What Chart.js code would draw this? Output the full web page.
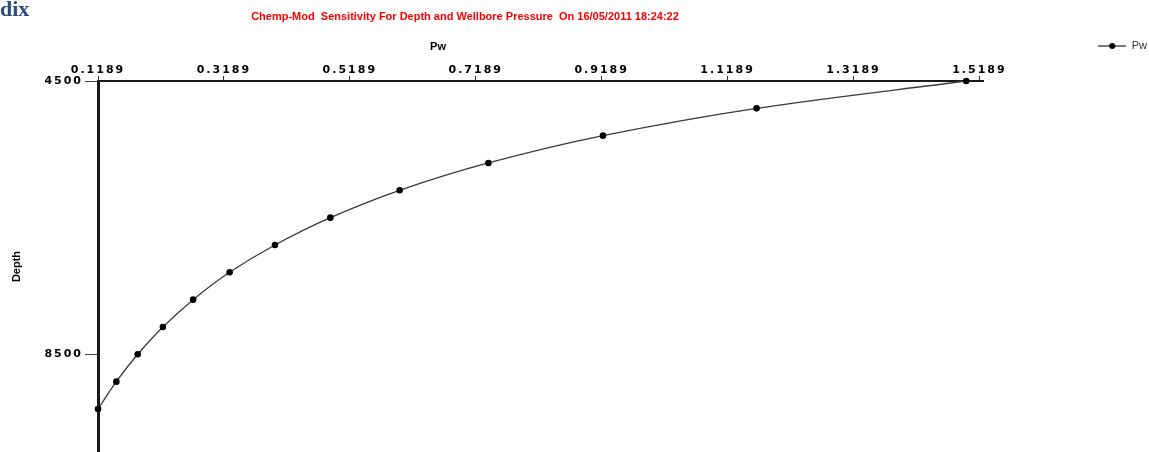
<!DOCTYPE html>
<html>
<head>
<meta charset="utf-8">
<script src="https://cdn.jsdelivr.net/npm/chart.js@4.4.1/dist/chart.umd.min.js"></script>
<style>
  html, body { margin: 0; padding: 0; background: #ffffff; overflow: hidden; }
  #frame { position: relative; width: 1149px; height: 452px; overflow: hidden; background: #ffffff; }
  #plot { position: absolute; left: 0; top: 0; }
  #fragment { position: absolute; left: 0; top: -2px; font: bold 22px "Liberation Serif", "DejaVu Serif", serif; line-height: 22px; color: #2c4a7c; }
</style>
</head>
<body>
<div id="frame">
  <canvas id="plot" width="1157" height="452"></canvas>
  <div id="fragment">dix</div>
</div>
<script>
// Depth (ft) and wellbore pressure readings of the sensitivity run
const depth = [4500, 4900, 5300, 5700, 6100, 6500, 6900, 7300, 7700, 8100, 8500, 8900, 9300];
const pw = [1.498, 1.165, 0.921, 0.739, 0.598, 0.488, 0.400, 0.328, 0.270, 0.222, 0.182, 0.148, 0.1189];

// Axis tick values
const pwTicks = [0.1189, 0.3189, 0.5189, 0.7189, 0.9189, 1.1189, 1.3189, 1.5189];
const depthTicks = [4500, 8500];

// Texts
const headingText = 'Chemp-Mod  Sensitivity For Depth and Wellbore Pressure  On 16/05/2011 18:24:22';
const xAxisTitle = 'Pw';
const yAxisTitle = 'Depth';
const seriesName = 'Pw';

const TICK_FONT = { family: '"DejaVu Sans", Verdana, sans-serif', size: 11, weight: 'bold' };

// Legend sample: short line with a dot, as used by the series
const swatch = document.createElement('canvas');
swatch.width = 28;
swatch.height = 8;
(function () {
  const s = swatch.getContext('2d');
  s.strokeStyle = '#222';
  s.lineWidth = 1.2;
  s.beginPath();
  s.moveTo(0, 4);
  s.lineTo(28, 4);
  s.stroke();
  s.fillStyle = '#000';
  s.beginPath();
  s.arc(14, 4, 3, 0, Math.PI * 2);
  s.fill();
})();

// Widely spaced tick labels
const spacedTicks = {
  id: 'spacedTicks',
  beforeDraw(chart) {
    for (const id of ['x', 'y']) {
      const scale = chart.scales[id];
      if (!scale || scale._spaced) continue;
      const base = scale.drawLabels;
      scale.drawLabels = function (area) {
        this.ctx.save();
        this.ctx.letterSpacing = '2px';
        base.call(this, area);
        this.ctx.restore();
      };
      scale._spaced = true;
    }
  }
};

// Heading and horizontal axis caption
const captions = {
  id: 'captions',
  afterDraw(chart) {
    const ctx = chart.ctx;
    ctx.save();
    ctx.textAlign = 'center';
    ctx.textBaseline = 'middle';
    ctx.fillStyle = '#ff0000';
    ctx.font = 'bold 11px "Liberation Sans", Arial, sans-serif';
    ctx.fillText(headingText, 465, 17);
    ctx.fillStyle = '#000000';
    ctx.font = 'bold 11px "Liberation Sans", Arial, sans-serif';
    ctx.fillText(xAxisTitle, 438, 47);
    ctx.restore();
  }
};

new Chart(document.getElementById('plot'), {
  type: 'line',
  data: {
    datasets: [{
      label: seriesName,
      data: depth.map((d, i) => ({ x: pw[i], y: d })),
      borderColor: '#3a3a3a',
      borderWidth: 1.3,
      tension: 0.35,
      pointRadius: 3.3,
      pointBackgroundColor: '#000000',
      pointBorderWidth: 0,
      pointStyle: 'circle',
      clip: false,
      fill: false
    }]
  },
  options: {
    responsive: false,
    animation: false,
    devicePixelRatio: 1,
    layout: { autoPadding: false, padding: { top: -74.5, left: 0, right: 0, bottom: 0 } },
    plugins: {
      title: { display: false },
      tooltip: { enabled: false },
      legend: {
        position: 'right',
        align: 'start',
        fullSize: true,
        labels: {
          usePointStyle: true,
          pointStyle: swatch,
          pointStyleWidth: 28,
          boxHeight: 8,
          padding: 115,
          color: '#333333',
          font: { family: '"Liberation Sans", Arial, sans-serif', size: 11 }
        }
      }
    },
    scales: {
      x: {
        type: 'linear',
        position: 'top',
        min: 0.1189,
        max: 1.525,
        afterBuildTicks: (s) => { s.ticks = pwTicks.map(v => ({ value: v })); },
        afterFit: (s) => { s.height = 155.5; },
        ticks: {
          font: TICK_FONT,
          color: '#000000',
          padding: -1,
          maxRotation: 0,
          autoSkip: false,
          callback: (v) => Number(v).toFixed(4)
        },
        grid: { display: true, drawOnChartArea: false, drawTicks: true, tickLength: 5, color: '#333333', lineWidth: 1 },
        border: { display: true, color: '#1a1a1a', width: 2 },
        title: { display: false }
      },
      y: {
        type: 'linear',
        position: 'left',
        reverse: true,
        min: 4500,
        max: 9930,
        afterBuildTicks: (s) => { s.ticks = depthTicks.map(v => ({ value: v })); },
        afterFit: (s) => { s.width = 98; s.paddingTop = 0; s.paddingBottom = 0; },
        ticks: {
          font: TICK_FONT,
          color: '#000000',
          padding: 2,
          autoSkip: false,
          callback: (v) => String(v)
        },
        grid: { display: true, drawOnChartArea: false, drawTicks: true, tickLength: 13, color: '#444444', lineWidth: 1 },
        border: { display: true, color: '#1a1a1a', width: 3 },
        title: {
          display: true,
          text: yAxisTitle,
          color: '#000000',
          font: { family: '"Liberation Sans", Arial, sans-serif', size: 11, weight: 'bold' },
          padding: { top: 10, bottom: 0 }
        }
      }
    }
  },
  plugins: [spacedTicks, captions]
});
</script>
</body>
</html>
